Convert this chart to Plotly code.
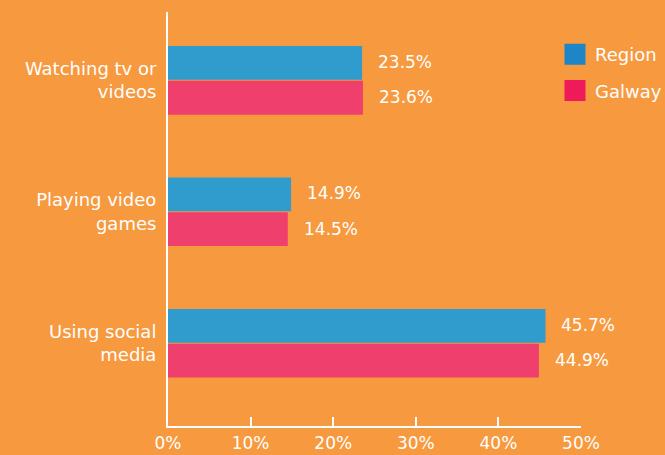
import plotly.graph_objects as go

categories = ["Watching tv or<br>videos", "Playing video<br>games", "Using social<br>media"]
region = [23.5, 14.9, 45.7]
galway = [23.6, 14.5, 44.9]
series_names = ["Region", "Galway"]
x_ticks = [0, 10, 20, 30, 40, 50]
x_tick_labels = ["0%", "10%", "20%", "30%", "40%", "50%"]

BG = "#f7993e"
REGION_COL = "#2f9ccd"
GALWAY_COL = "#ef3f6c"
REGION_LEG = "#1e86c6"
GALWAY_LEG = "#ee1a5a"
FONT = "DejaVu Sans"
FS = 17

fig = go.Figure()
for name, vals, col in [(series_names[0], region, REGION_COL), (series_names[1], galway, GALWAY_COL)]:
    fig.add_trace(go.Bar(
        y=categories, x=vals, orientation="h", name=name,
        marker=dict(color=col, line=dict(width=0)),
        showlegend=False, hoverinfo="x+name",
    ))
# legend entries
for name, col in [(series_names[0], REGION_LEG), (series_names[1], GALWAY_LEG)]:
    fig.add_trace(go.Scatter(
        x=[None], y=[None], mode="markers", name=name, legendgroup=name,
        marker=dict(symbol="square", size=16, color=col, line=dict(color=col, width=5)),
    ))

# value labels
for s, vals in enumerate([region, galway]):
    for i, v in enumerate(vals):
        fig.add_annotation(
            x=v, y=i + (-0.14 if s == 0 else 0.13), xref="x", yref="y",
            text=f"{v:.1f}%", showarrow=False, xanchor="left", xshift=14,
            font=dict(color="white", size=FS, family=FONT),
        )

fig.update_layout(
    template="none",
    width=665, height=455, autosize=False,
    paper_bgcolor=BG, plot_bgcolor=BG,
    margin=dict(l=168, r=84, t=12, b=29, autoexpand=False),
    barmode="group", bargap=0.47, bargroupgap=0.03,
    font=dict(family=FONT, color="white", size=FS),
    legend=dict(xref="container", yref="container",
                x=555 / 665, y=1 - 36 / 455, xanchor="left", yanchor="top",
                bgcolor="rgba(0,0,0,0)", font=dict(size=18, color="white"),
                itemwidth=30, tracegroupgap=10, traceorder="grouped"),
    showlegend=True,
)
fig.update_xaxes(
    range=[0, 50], tickvals=x_ticks, ticktext=x_tick_labels,
    showgrid=False, zeroline=False, automargin=False,
    showline=True, linecolor="white", linewidth=2,
    ticks="inside", ticklen=9, tickcolor="white", tickwidth=2,
    tickfont=dict(size=FS, color="white"), ticklabelstandoff=1,
    fixedrange=True,
)
fig.update_yaxes(
    type="category", categoryorder="array", categoryarray=categories,
    range=[2.63, -0.52], automargin=False,
    showgrid=False, zeroline=False,
    showline=True, linecolor="white", linewidth=2,
    ticks="", tickfont=dict(size=18, color="white"), ticklabelstandoff=6,
    fixedrange=True,
)
fig.write_html(
    "out.html",
    config={"displayModeBar": False},
    post_script="document.body.style.margin='0';document.body.style.overflow='hidden';document.body.style.background='" + BG + "';",
)
